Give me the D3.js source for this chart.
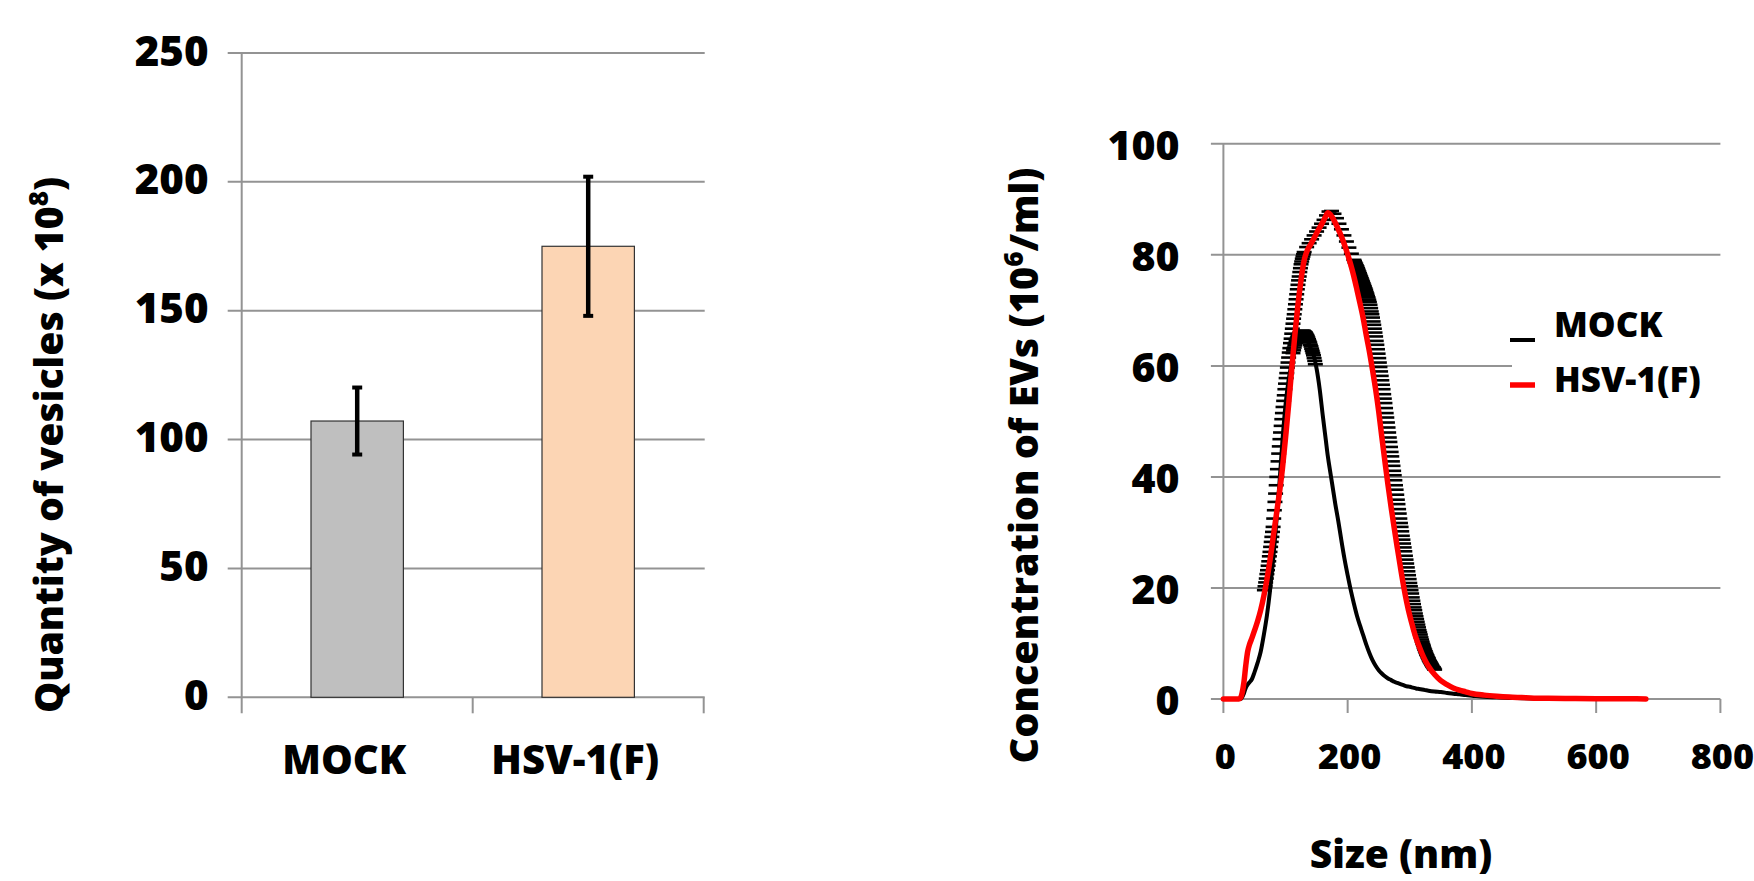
<!DOCTYPE html>
<html><head><meta charset="utf-8">
<script src="https://cdn.jsdelivr.net/npm/d3@7"></script>
<style>
html,body{margin:0;padding:0;background:#fff;}
svg{display:block;}
text{font-family:"Open Sans",sans-serif;font-weight:800;fill:#000;}
</style></head><body>
<svg id="chart" width="1754" height="881"></svg>
<script>
// ---------- Left panel data ----------
const barCategories = ["MOCK", "HSV-1(F)"];
const barValues = [107.2, 175.0];
const barErrors = [13, 27];
const barColors = ["#bfbfbf", "#fcd5b4"];
const barTicks = [0, 50, 100, 150, 200, 250];

// ---------- Right panel data ----------
const sizeTicks = [0, 200, 400, 600, 800];
const concTicks = [0, 20, 40, 60, 80, 100];
const sizes = [
  0, 10, 20, 25, 28, 30, 33, 36, 39, 42,
  46, 50, 55, 60, 65, 70, 75, 80, 85, 90,
  95, 100, 105, 110, 115, 120, 125, 128, 130, 135,
  140, 145, 150, 155, 160, 165, 168, 170, 175, 180,
  185, 190, 195, 200, 205, 210, 215, 220, 225, 230,
  235, 240, 245, 250, 255, 260, 265, 270, 275, 280,
  285, 290, 295, 300, 305, 310, 315, 320, 325, 330,
  340, 350, 360, 370, 380, 390, 400, 420, 440, 460,
  480, 500, 550, 600, 650, 680
];
const hsvConc = [
  0, 0, 0, 0, 0.3, 1, 3, 6, 8.5, 9.8,
  11, 12.3, 14, 16, 18.5, 21.5, 25, 29, 33, 37,
  41.5, 47, 53, 59.5, 65.5, 71, 75.5, 77.8, 79, 80.8,
  81.8, 82.8, 83.9, 84.9, 85.9, 87, 87.6, 87.5, 86.8, 85.8,
  84.6, 83.3, 81.8, 80.1, 78.2, 76.1, 73.7, 71.2, 68.6, 65.5,
  62.6, 59.3, 55.8, 51.8, 47.2, 42.8, 38.5, 34.5, 30.8, 27.2,
  23.7, 20.4, 17.5, 15, 12.9, 11, 9.5, 8.1, 6.9, 5.9,
  4.4, 3.3, 2.6, 2.0, 1.6, 1.3, 1.0, 0.7, 0.5, 0.35,
  0.25, 0.15, 0.1, 0.05, 0.03, 0.02
];
const mockConc = [
  0, 0, 0, 0, 0, 0.3, 1, 2, 2.6, 3.0,
  3.6, 4.8, 6.5, 8.5, 11.5, 15, 19.5, 25, 31.5, 38.5,
  46.5, 53, 57.5, 60.5, 62.8, 64.4, 65.3, 65.6, 65.5, 64.6,
  63.3, 62, 59.5, 55.8, 51, 46.5, 43.8, 42.3, 38.8, 35.2,
  32, 28.5, 25.2, 22.3, 19.6, 17.2, 15, 13.2, 11.5, 9.8,
  8.3, 7.0, 6.0, 5.2, 4.6, 4.1, 3.7, 3.4, 3.1, 2.9,
  2.7, 2.5, 2.3, 2.2, 2.05, 1.9, 1.8, 1.7, 1.6, 1.5,
  1.35, 1.25, 1.1, 0.95, 0.85, 0.7, 0.6, 0.4, 0.3, 0.2,
  0.15, 0.1, 0.05, 0, 0, 0
];
// upper error-bar caps of HSV-1(F) ([size, value])
const hsvCaps = [
  [66,19.6],[67,20.3],[68,21.0],[69,21.7],[70,22.5],[71,23.2],[72,24.0],[73,24.8],[74,25.7],[75,26.5],
  [76,27.4],[77,28.3],[78,29.2],[79,30.1],[80,31.0],[81,32.5],[82,34.0],[83,35.5],[84,37.0],[85,38.5],
  [86,40.0],[87,41.4],[88,42.8],[89,44.2],[90,45.5],[91,46.8],[92,48.0],[93,49.2],[94,50.4],[95,51.5],
  [96,52.6],[97,53.7],[98,54.7],[99,55.8],[100,56.8],[101,57.8],[102,58.7],[103,59.7],[104,60.6],[105,61.5],
  [106,62.4],[107,63.2],[108,64.1],[109,64.9],[110,65.8],[111,66.7],[112,67.6],[113,68.5],[114,69.3],[115,70.2],
  [116,71.1],[117,72.0],[118,72.9],[119,73.8],[120,74.6],[121,75.4],[122,76.1],[123,76.9],[124,77.6],[125,78.3],
  [126,78.8],[127,79.3],[128,79.7],[129,80.1],[130,80.5],
  [134,81.4],[138,82.1],[142,82.8],[146,83.5],[150,84.2],[154,84.9],[158,85.6],[162,86.3],[166,87.1],[170,87.8],
  [174,87.9],[178,87.4],[182,86.6],[186,85.6],[190,84.6],[194,83.5],[198,82.4],[202,81.3],[206,80.2],[210,79.1],
  [211,78.9],[212,78.6],[213,78.4],[214,78.1],[215,77.9],[216,77.6],[217,77.3],[218,77.0],[219,76.7],[220,76.4],
  [221,76.1],[222,75.8],[223,75.5],[224,75.2],[225,74.9],[226,74.6],[227,74.3],[228,74.0],[229,73.7],[230,73.3],
  [231,73.0],[232,72.6],[233,72.3],[234,71.9],[235,71.5],[236,71.0],[237,70.4],[238,69.8],[239,69.3],[240,68.7],
  [241,68.0],[242,67.4],[243,66.7],[244,66.0],[245,65.3],[246,64.5],[247,63.8],[248,63.0],[249,62.2],[250,61.4],
  [251,60.6],[252,59.8],[253,59.0],[254,58.2],[255,57.4],[256,56.6],[257,55.8],[258,54.9],[259,54.1],[260,53.3],
  [261,52.4],[262,51.5],[263,50.7],[264,49.8],[265,48.9],[266,48.0],[267,47.1],[268,46.3],[269,45.4],[270,44.5],
  [271,43.7],[272,42.8],[273,42.0],[274,41.1],[275,40.3],[276,39.4],[277,38.5],[278,37.7],[279,36.8],[280,35.9],
  [281,35.1],[282,34.2],[283,33.4],[284,32.5],[285,31.7],[286,31.0],[287,30.2],[288,29.4],[289,28.7],[290,28.0],
  [291,27.3],[292,26.6],[293,25.8],[294,25.1],[295,24.4],[296,23.7],[297,23.0],[298,22.3],[299,21.6],[300,20.9],
  [301,20.3],[302,19.6],[303,19.0],[304,18.3],[305,17.7],[306,17.1],[307,16.5],[308,16.0],[309,15.4],[310,14.9],
  [311,14.4],[312,13.9],[313,13.4],[314,12.9],[315,12.4],[316,12.0],[317,11.6],[318,11.1],[319,10.7],[320,10.3],
  [321,9.9],[322,9.6],[323,9.2],[324,8.9],[325,8.6],[326,8.3],[327,8.0],[328,7.8],[329,7.5],[330,7.3],
  [331,7.0],[332,6.8],[333,6.6],[334,6.4],[335,6.2],[336,6.0],[337,5.8],[338,5.7],[339,5.5],[340,5.3]
];
// upper error-bar caps of MOCK near its peak
const mockCaps = [
  [112,62.3],[113,62.8],[114,63.3],[115,63.7],[116,64.1],[117,64.5],[118,64.8],[119,65.1],[120,65.4],[121,65.6],
  [122,65.8],[123,66.0],[124,66.1],[125,66.2],[126,66.3],[127,66.3],[128,66.3],[129,66.3],[130,66.2],[131,66.1],
  [132,66.0],[133,65.8],[134,65.6],[135,65.4],[136,65.1],[137,64.8],[138,64.5],[139,64.2],[140,63.8],[141,63.5],
  [142,63.1],[143,62.7],[144,62.3],[145,61.9],[146,61.4],[147,60.9],[148,60.3]
];
const legendLabels = ["MOCK", "HSV-1(F)"];
const seriesColors = ["#000000", "#ff0000"];

// ---------- drawing ----------
const svg = d3.select("#chart");
const gridColor = "#939393";

// ===== Left bar chart =====
const yL = d3.scaleLinear().domain([0, 250]).range([697.3, 53]);
const xL = d3.scaleBand().domain(barCategories).range([241.7, 703.7])
  .paddingInner(0.6).paddingOuter(0.3);
const L = svg.append("g");

L.selectAll("line.grid").data(barTicks).join("line")
  .attr("x1", 227.7).attr("x2", 704.7)
  .attr("y1", d => yL(d)).attr("y2", d => yL(d))
  .attr("stroke", gridColor).attr("stroke-width", 2);

L.append("line").attr("x1", 241.7).attr("x2", 241.7)
  .attr("y1", yL(250)).attr("y2", yL(0) + 16)
  .attr("stroke", gridColor).attr("stroke-width", 2);

const slotEdges = d3.range(barCategories.length + 1).map(i => xL.range()[0] + i * xL.step());
L.selectAll("line.xt").data(slotEdges.slice(1)).join("line")
  .attr("x1", d => d).attr("x2", d => d)
  .attr("y1", yL(0)).attr("y2", yL(0) + 16)
  .attr("stroke", gridColor).attr("stroke-width", 2);

L.selectAll("text.yt").data(barTicks).join("text")
  .attr("x", 208.5).attr("y", d => yL(d) + 12.5)
  .attr("text-anchor", "end").attr("font-size", 42)
  .text(d => d);

L.selectAll("rect.bar").data(barCategories).join("rect")
  .attr("x", d => xL(d)).attr("width", xL.bandwidth())
  .attr("y", (d, i) => yL(barValues[i]))
  .attr("height", (d, i) => yL(0) - yL(barValues[i]))
  .attr("fill", (d, i) => barColors[i])
  .attr("stroke", "#333").attr("stroke-width", 1.2);

barCategories.forEach((c, i) => {
  const cx = xL(c) + xL.bandwidth() / 2;
  const top = yL(barValues[i] + barErrors[i]);
  const bot = yL(barValues[i] - barErrors[i]);
  L.append("line").attr("x1", cx).attr("x2", cx).attr("y1", top).attr("y2", bot)
    .attr("stroke", "#000").attr("stroke-width", 4.5);
  [top, bot].forEach(y => {
    L.append("line").attr("x1", cx - 5).attr("x2", cx + 5).attr("y1", y).attr("y2", y)
      .attr("stroke", "#000").attr("stroke-width", 4);
  });
});

L.selectAll("text.cat").data(barCategories).join("text")
  .attr("x", d => xL(d) + xL.bandwidth() / 2 - 13)
  .attr("y", 774).attr("text-anchor", "middle").attr("font-size", 40)
  .text(d => d);

const tl = L.append("text").attr("transform", "translate(63,445) rotate(-90)")
  .attr("text-anchor", "middle").attr("font-size", 39.2);
tl.append("tspan").text("Quantity of vesicles (x 10");
tl.append("tspan").attr("font-size", 26).attr("dy", -15).text("8");
tl.append("tspan").attr("dy", 15).text(")");

// ===== Right size-distribution chart =====
const xR = d3.scaleLinear().domain([0, 800]).range([1223.4, 1720.4]);
const yR = d3.scaleLinear().domain([0, 100]).range([699, 143.8]);
const R = svg.append("g");

R.selectAll("line.grid").data(concTicks).join("line")
  .attr("x1", xR(0) - 12.5).attr("x2", xR(800))
  .attr("y1", d => yR(d)).attr("y2", d => yR(d))
  .attr("stroke", gridColor).attr("stroke-width", 2);

R.append("line").attr("x1", xR(0)).attr("x2", xR(0))
  .attr("y1", yR(100)).attr("y2", yR(0) + 14)
  .attr("stroke", gridColor).attr("stroke-width", 2);

R.selectAll("line.xt").data(sizeTicks.slice(1)).join("line")
  .attr("x1", d => xR(d)).attr("x2", d => xR(d))
  .attr("y1", yR(0)).attr("y2", yR(0) + 14)
  .attr("stroke", gridColor).attr("stroke-width", 2);

R.selectAll("text.yt").data(concTicks).join("text")
  .attr("x", 1179.5).attr("y", d => yR(d) + 16)
  .attr("text-anchor", "end").attr("font-size", 41)
  .text(d => d);

R.selectAll("text.xt").data(sizeTicks).join("text")
  .attr("x", d => xR(d) + 2).attr("y", 769)
  .attr("text-anchor", "middle").attr("font-size", 36)
  .text(d => d);

// error caps (drawn beneath lines)
const capHalf = 7.5;
R.selectAll("line.hcap").data(hsvCaps).join("line")
  .attr("x1", d => xR(d[0]) - capHalf).attr("x2", d => xR(d[0]) + capHalf)
  .attr("y1", d => yR(d[1])).attr("y2", d => yR(d[1]))
  .attr("stroke", "#000").attr("stroke-width", 2.6);
R.selectAll("line.mcap").data(mockCaps).join("line")
  .attr("x1", d => xR(d[0]) - capHalf).attr("x2", d => xR(d[0]) + capHalf)
  .attr("y1", d => yR(d[1])).attr("y2", d => yR(d[1]))
  .attr("stroke", "#000").attr("stroke-width", 2.6);

const lineGen = vals => d3.line()
  .x((d, i) => xR(sizes[i])).y(d => yR(d))
  .curve(d3.curveMonotoneX)(vals);

R.append("path").attr("d", lineGen(mockConc))
  .attr("fill", "none").attr("stroke", seriesColors[0]).attr("stroke-width", 4)
  .attr("stroke-linejoin", "round").attr("stroke-linecap", "round");
R.append("path").attr("d", lineGen(hsvConc))
  .attr("fill", "none").attr("stroke", seriesColors[1]).attr("stroke-width", 5.5)
  .attr("stroke-linejoin", "round").attr("stroke-linecap", "round");

// legend
R.append("rect").attr("x", 1512).attr("y", 298).attr("width", 210).attr("height", 110)
  .attr("fill", "#fff");
R.append("line").attr("x1", 1510).attr("x2", 1535).attr("y1", 340).attr("y2", 340)
  .attr("stroke", seriesColors[0]).attr("stroke-width", 4);
R.append("line").attr("x1", 1510).attr("x2", 1535).attr("y1", 385).attr("y2", 385)
  .attr("stroke", seriesColors[1]).attr("stroke-width", 5.5);
R.selectAll("text.leg").data(legendLabels).join("text")
  .attr("x", 1554).attr("y", (d, i) => i === 0 ? 337 : 392)
  .attr("font-size", 35).text(d => d);

R.append("text").attr("x", 1401).attr("y", 868).attr("text-anchor", "middle")
  .attr("font-size", 39).text("Size (nm)");

const tr = R.append("text").attr("transform", "translate(1038,465.5) rotate(-90)")
  .attr("text-anchor", "middle").attr("font-size", 39.6);
tr.append("tspan").text("Concentration of EVs (10");
tr.append("tspan").attr("font-size", 26).attr("dy", -15).text("6");
tr.append("tspan").attr("dy", 15).text("/ml)");
</script>
</body></html>
